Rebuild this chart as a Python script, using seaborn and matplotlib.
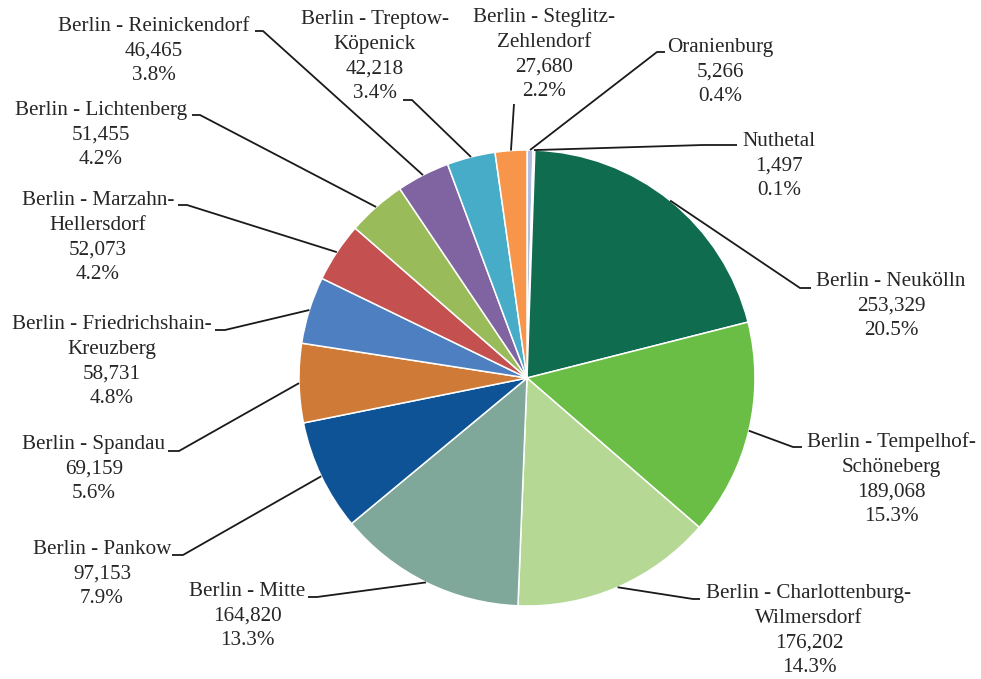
import re
import matplotlib
matplotlib.use("Agg")
import matplotlib.pyplot as plt
import seaborn as sns
import numpy as np

# Residents by district / town (pie starts at 12 o'clock, clockwise)
districts = [
    "Oranienburg", "Nuthetal", "Berlin - Neukölln", "Berlin - Tempelhof-Schöneberg",
    "Berlin - Charlottenburg-Wilmersdorf", "Berlin - Mitte", "Berlin - Pankow",
    "Berlin - Spandau", "Berlin - Friedrichshain-Kreuzberg", "Berlin - Marzahn-Hellersdorf",
    "Berlin - Lichtenberg", "Berlin - Reinickendorf", "Berlin - Treptow-Köpenick",
    "Berlin - Steglitz-Zehlendorf",
]
residents = [5266, 1497, 253329, 189068, 176202, 164820, 97153,
             69159, 58731, 52073, 51455, 46465, 42218, 27680]
colors = ["#B2BFE0", "#D9DEEC", "#106C4F", "#6ABD45", "#B5D994", "#80A89A", "#0D5396",
          "#CF7A36", "#4E80C1", "#C4504F", "#9ABB59", "#8064A2", "#46ACC8", "#F7964A"]

# Label placement in pixel space: text centre x, first baseline y, leader path
label_layout = [
    (720, 52, [(657, 52), (665, 52)]),
    (779, 146, [(703, 145), (737, 145)]),
    (891, 286, [(800, 288), (811, 288)]),
    (891, 447, [(793, 447), (802, 447)]),
    (809, 598, [(693, 599), (700, 599)]),
    (247, 596, [(317, 597), (308, 597)]),
    (102, 554, [(183, 555), (172, 555)]),
    (94, 449, [(179, 451), (168, 451)]),
    (112, 329, [(225, 330), (215, 330)]),
    (98, 205, [(187, 205), (178, 205)]),
    (101, 115, [(200, 115), (192, 115)]),
    (154, 31, [(263, 31), (255, 31)]),
    (375, 24, [(412, 100), (403, 100)]),
    (544, 22, [(514, 104)]),
]

W, H = 981, 679
CENTER = (527, 378)
RADIUS = 228
LINE_STEP = 24.7

sns.set_theme(style="white")
plt.rcParams["font.family"] = ["Liberation Serif", "DejaVu Serif"]
palette = sns.color_palette(colors)

fig = plt.figure(figsize=(W / 100, H / 100), dpi=100)
ax = fig.add_axes([0, 0, 1, 1])

wedges, _ = ax.pie(
    residents, colors=palette, startangle=-90, counterclock=True,
    center=CENTER, radius=RADIUS,
    wedgeprops=dict(edgecolor="white", linewidth=1.1),
)
ax.set_xlim(0, W)
ax.set_ylim(H, 0)
ax.set_aspect("equal")
ax.axis("off")

total = sum(residents)
text_color = "#262626"
for wedge, name, val, (cx, base, path) in zip(wedges, districts, residents, label_layout):
    mid = np.deg2rad((wedge.theta1 + wedge.theta2) / 2)
    anchor = (CENTER[0] + RADIUS * np.cos(mid), CENTER[1] + RADIUS * np.sin(mid))
    pts = [anchor] + path
    ax.plot([p[0] for p in pts], [p[1] for p in pts], color="#1a1a1a", lw=1.3,
            solid_capstyle="butt", zorder=3)
    lines = re.sub(r"(?<=\w)-(?=\w)", "-\n", name).split("\n")
    lines += [f"{val:,}", f"{val / total * 100:.1f}%"]
    for i, line in enumerate(lines):
        ax.text(cx, base + i * LINE_STEP, line, ha="center", va="baseline",
                fontsize=15.2, color=text_color)

fig.savefig("out.png", dpi=100, facecolor="white")
